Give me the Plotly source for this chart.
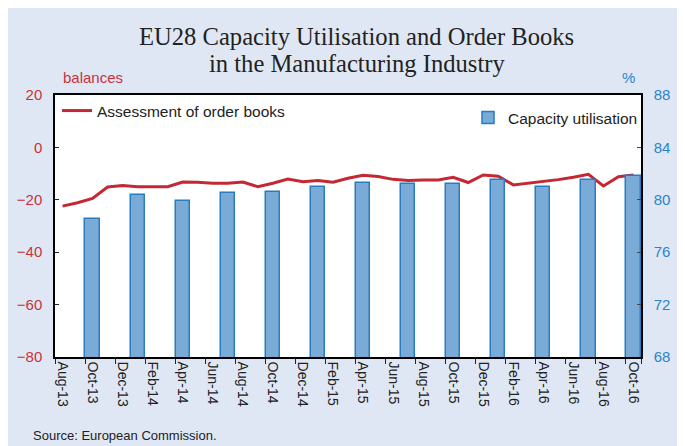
import plotly.graph_objects as go

months = ["Aug-13", "Sep-13", "Oct-13", "Nov-13", "Dec-13",
          "Jan-14", "Feb-14", "Mar-14", "Apr-14", "May-14", "Jun-14", "Jul-14", "Aug-14", "Sep-14", "Oct-14", "Nov-14", "Dec-14",
          "Jan-15", "Feb-15", "Mar-15", "Apr-15", "May-15", "Jun-15", "Jul-15", "Aug-15", "Sep-15", "Oct-15", "Nov-15", "Dec-15",
          "Jan-16", "Feb-16", "Mar-16", "Apr-16", "May-16", "Jun-16", "Jul-16", "Aug-16", "Sep-16", "Oct-16"]

order_books = [-22.4, -21.1, -19.5, -15.1, -14.5, -15.0, -15.0, -15.0, -13.2, -13.3,
               -13.7, -13.7, -13.2, -15.0, -13.7, -12.1, -13.1, -12.6, -13.3, -11.8,
               -10.6, -11.1, -12.2, -12.6, -12.4, -12.4, -11.4, -13.4, -10.5, -11.0,
               -14.3, -13.7, -13.1, -12.3, -11.4, -10.3, -14.7, -11.2, -10.5]

quarters = ["Oct-13", "Jan-14", "Apr-14", "Jul-14", "Oct-14", "Jan-15", "Apr-15",
            "Jul-15", "Oct-15", "Jan-16", "Apr-16", "Jul-16", "Oct-16"]
capacity = [78.5, 80.4, 79.9, 80.5, 80.6, 81.0, 81.3, 81.2, 81.2, 81.5, 81.0, 81.5, 81.8]

tick_labels = months[::2]

RED = "rgb(196,40,52)"
REDTXT = "rgb(200,50,60)"
BLUETXT = "rgb(40,132,204)"
BG = "#E0E7F4"
SANS = "Liberation Sans, Arial, sans-serif"
SERIF = "Liberation Serif, Times New Roman, serif"

# page offset of the figure (body margin)
OFF = 8
W, H = 685 - OFF, 446 - OFF
X0, X1, Y0, Y1 = 55, 641, 95, 357   # plot area in screen pixels
L, R, T, B = X0 - OFF, 685 - X1, Y0 - OFF, 446 - Y1
PW, PH = X1 - X0, Y1 - Y0


def px(x):
    return (x - X0) / PW


def py(y):
    return (Y1 - y) / PH


fig = go.Figure()

fig.add_trace(go.Bar(
    x=quarters, y=capacity, yaxis="y2", name="Capacity utilisation",
    width=0.95,
    marker=dict(color="rgb(122,170,214)", line=dict(color="rgb(40,124,192)", width=1.5)),
    legend="legend2",
))

fig.add_trace(go.Scatter(
    x=months, y=order_books, mode="lines", name="Assessment of order books",
    line=dict(color=RED, width=3),
    legend="legend",
))

fig.update_layout(
    width=W, height=H,
    margin=dict(l=L, r=R, t=T, b=B, autoexpand=False),
    paper_bgcolor=BG,
    plot_bgcolor="white",
    font=dict(family=SANS, color="#222"),
    showlegend=True,
    bargap=0,
    xaxis=dict(
        type="category", categoryorder="array", categoryarray=months,
        range=[-0.5, len(months) - 0.5],
        tickmode="array", tickvals=tick_labels, ticktext=tick_labels,
        tickson="boundaries",
        tickangle=90, tickfont=dict(size=14, color="#222"),
        ticks="outside", ticklen=5, tickcolor="#222",
        showline=True, linecolor="black", linewidth=1.5, mirror=True,
        showgrid=False, zeroline=False,
    ),
    yaxis=dict(
        range=[-80, 20], dtick=20,
        tickfont=dict(size=15, color=REDTXT),
        ticks="inside", ticklen=4, tickcolor="#222",
        showline=True, linecolor="black", linewidth=1.5, mirror=True,
        showgrid=False, zeroline=False,
        ticklabelstandoff=8,
    ),
    yaxis2=dict(
        range=[68, 88], dtick=4, overlaying="y", side="right",
        tickfont=dict(size=15, color=BLUETXT),
        ticks="inside", ticklen=4, tickcolor="#444",
        showline=True, linecolor="black", linewidth=1.5,
        showgrid=False, zeroline=False,
        ticklabelstandoff=8,
    ),
    legend=dict(
        x=px(57), y=py(94), xanchor="left", yanchor="top",
        bgcolor="rgba(0,0,0,0)", font=dict(size=15.5, color="#222"),
    ),
    legend2=dict(
        x=px(468), y=py(101), xanchor="left", yanchor="top",
        bgcolor="rgba(0,0,0,0)", font=dict(size=15.5, color="#222"),
    ),
    annotations=[
        dict(text="EU28 Capacity Utilisation and Order Books", xref="paper", yref="paper",
             x=px(356.5), y=py(37), xanchor="center", yanchor="middle", showarrow=False,
             font=dict(family=SERIF, size=24.6, color="#222")),
        dict(text="in the Manufacturing Industry", xref="paper", yref="paper",
             x=px(356.5), y=py(63.5), xanchor="center", yanchor="middle", showarrow=False,
             font=dict(family=SERIF, size=24.6, color="#222")),
        dict(text="balances", xref="paper", yref="paper",
             x=px(61), y=py(77), xanchor="left", yanchor="middle", showarrow=False,
             font=dict(size=15, color=REDTXT)),
        dict(text="%", xref="paper", yref="paper",
             x=px(628.5), y=py(78), xanchor="center", yanchor="middle", showarrow=False,
             font=dict(size=15, color=BLUETXT)),
        dict(text="Source: European Commission.", xref="paper", yref="paper",
             x=px(31), y=py(435), xanchor="left", yanchor="middle", showarrow=False,
             font=dict(size=13, color="#222")),
    ],
)

fig.write_html("out.html")
